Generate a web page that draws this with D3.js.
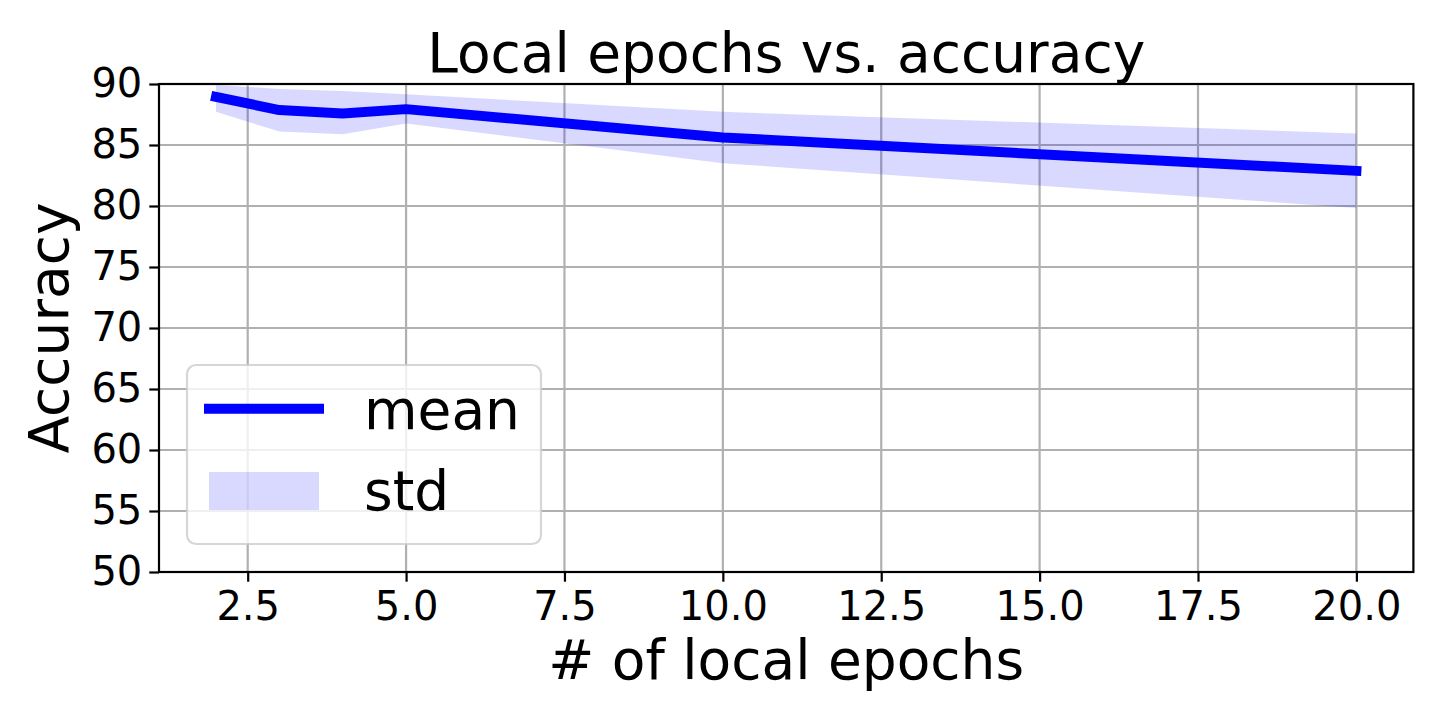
<!DOCTYPE html>
<html>
<head>
<meta charset="utf-8">
<script src="https://cdn.jsdelivr.net/npm/d3@7"></script>
<style>
  html, body { margin: 0; padding: 0; background: #fff; }
  svg { display: block; font-family: "DejaVu Sans", sans-serif; }
</style>
</head>
<body>
<script>
// ---- data ----
const epochs = [2, 3, 4, 5, 10, 20];
const meanAcc = [88.95, 87.86, 87.58, 87.94, 85.62, 82.88];
const stdLower = [87.72, 86.1, 85.88, 86.76, 83.51, 79.83];
const stdUpper = [89.92, 89.6, 89.42, 89.15, 87.72, 85.95];
const xTicks = [2.5, 5.0, 7.5, 10.0, 12.5, 15.0, 17.5, 20.0];
const yTicks = [50, 55, 60, 65, 70, 75, 80, 85, 90];
const titleText = "Local epochs vs. accuracy";
const xLabelText = "# of local epochs";
const yLabelText = "Accuracy";
const legendLabels = ["mean", "std"];

const W = 1440, H = 720;
const m = { left: 159, right: 1413.4, top: 84, bottom: 572 };

const svg = d3.select("body").append("svg").attr("width", W).attr("height", H);

const x = d3.scaleLinear().domain([1.1, 20.9]).range([m.left, m.right]);
const y = d3.scaleLinear().domain([50, 90]).range([m.bottom, m.top]);

const data = epochs.map((e, i) => ({ x: e, m: meanAcc[i], lo: stdLower[i], hi: stdUpper[i] }));

svg.append("defs").append("clipPath").attr("id", "clip")
  .append("rect").attr("x", m.left).attr("y", m.top)
  .attr("width", m.right - m.left).attr("height", m.bottom - m.top);

// grid
const grid = svg.append("g");
grid.selectAll(".gx").data(xTicks).enter().append("line")
  .attr("x1", d => x(d)).attr("x2", d => x(d))
  .attr("y1", m.top).attr("y2", m.bottom)
  .attr("stroke", "#b0b0b0").attr("stroke-width", 2.2);
grid.selectAll(".gy").data(yTicks).enter().append("line")
  .attr("x1", m.left).attr("x2", m.right)
  .attr("y1", d => y(d)).attr("y2", d => y(d))
  .attr("stroke", "#b0b0b0").attr("stroke-width", 2.2);

const plot = svg.append("g").attr("clip-path", "url(#clip)");

// band
plot.append("path").datum(data)
  .attr("d", d3.area().x(d => x(d.x)).y0(d => y(d.lo)).y1(d => y(d.hi)))
  .attr("fill", "#0000ff").attr("fill-opacity", 0.15);

// mean line
plot.append("path").datum(data)
  .attr("d", d3.line().x(d => x(d.x)).y(d => y(d.m)))
  .attr("fill", "none").attr("stroke", "#0000ff").attr("stroke-width", 10)
  .attr("stroke-linejoin", "round").attr("stroke-linecap", "square");

// axes
const xAxis = d3.axisBottom(x).tickValues(xTicks).tickFormat(d3.format(".1f")).tickSize(9.7).tickPadding(9.9);
const yAxis = d3.axisLeft(y).tickValues(yTicks).tickFormat(d3.format("d")).tickSize(9.7).tickPadding(7);

const gx = svg.append("g").attr("transform", `translate(0,${m.bottom})`).call(xAxis);
const gy = svg.append("g").attr("transform", `translate(${m.left},0)`).call(yAxis);
[gx, gy].forEach(g => {
  g.select(".domain").remove();
  g.selectAll(".tick line").attr("stroke", "#000").attr("stroke-width", 2.2);
  g.selectAll(".tick text").attr("fill", "#000").style("font-size", "40px")
    .style("font-family", "DejaVu Sans, sans-serif");
});

// spines
svg.append("rect").attr("x", m.left).attr("y", m.top)
  .attr("width", m.right - m.left).attr("height", m.bottom - m.top)
  .attr("fill", "none").attr("stroke", "#000").attr("stroke-width", 2.2);

// title & labels
svg.append("text").attr("x", (m.left + m.right) / 2).attr("y", 72)
  .attr("text-anchor", "middle").style("font-size", "55px").text(titleText);
svg.append("text").attr("x", (m.left + m.right) / 2).attr("y", 679)
  .attr("text-anchor", "middle").style("font-size", "55px").text(xLabelText);
svg.append("text")
  .attr("transform", `translate(68,${(m.top + m.bottom) / 2}) rotate(-90)`)
  .attr("text-anchor", "middle").style("font-size", "55px").text(yLabelText);

// legend
const lg = svg.append("g");
lg.append("rect").attr("x", 187).attr("y", 365).attr("width", 354).attr("height", 179)
  .attr("rx", 9).attr("ry", 9)
  .attr("fill", "#fff").attr("fill-opacity", 0.8)
  .attr("stroke", "#cccccc").attr("stroke-opacity", 0.8).attr("stroke-width", 2.2);
lg.append("line").attr("x1", 204).attr("x2", 324).attr("y1", 408.7).attr("y2", 408.7)
  .attr("stroke", "#0000ff").attr("stroke-width", 10);
lg.append("rect").attr("x", 209).attr("y", 472).attr("width", 110).attr("height", 38)
  .attr("fill", "#0000ff").attr("fill-opacity", 0.15);
lg.append("text").attr("x", 364).attr("y", 429).style("font-size", "55px").text(legendLabels[0]);
lg.append("text").attr("x", 364).attr("y", 510).style("font-size", "55px").text(legendLabels[1]);
</script>
</body>
</html>
